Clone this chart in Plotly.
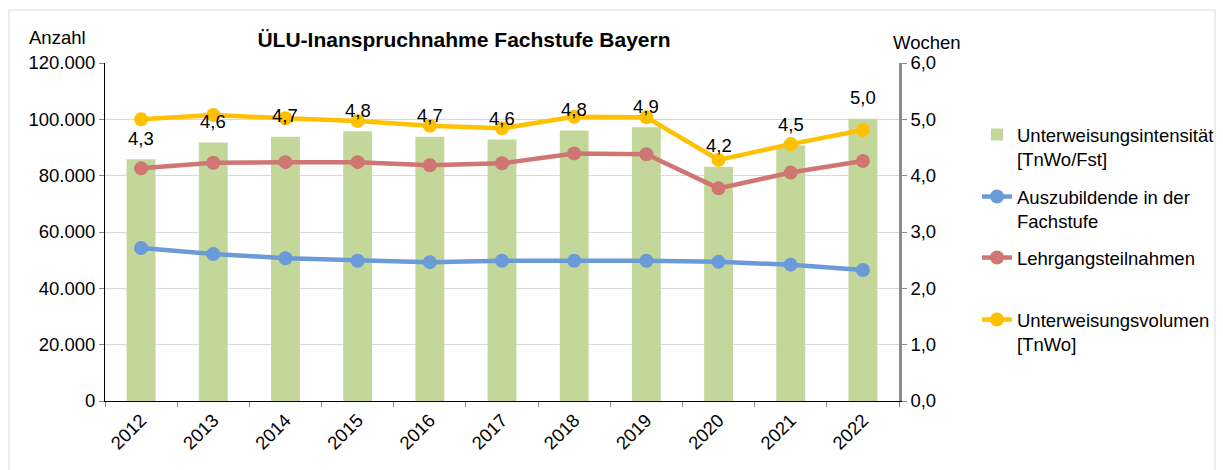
import plotly.graph_objects as go

years = ["2012", "2013", "2014", "2015", "2016", "2017", "2018", "2019", "2020", "2021", "2022"]
intensitaet = [4.29, 4.59, 4.69, 4.79, 4.69, 4.64, 4.80, 4.86, 4.16, 4.54, 5.01]
azubis = [54300, 52200, 50700, 49800, 49300, 49800, 49800, 49800, 49400, 48400, 46500]
lehrgaenge = [82600, 84600, 84800, 84800, 83700, 84400, 87900, 87600, 75500, 81100, 85200]
volumen = [100000, 101500, 100400, 99400, 97700, 96800, 100900, 100700, 85600, 91200, 96200]

left_ticks = [0, 20000, 40000, 60000, 80000, 100000, 120000]
right_ticks = [0, 1, 2, 3, 4, 5, 6]

xi = list(range(len(years)))
boundaries = [i - 0.5 for i in range(len(years) + 1)]

FONT = "Liberation Sans, Arial, sans-serif"
FS = 18.5
W, H = 1223, 470
L, R, T, B = 105, 324, 63, 69
ph = H - T - B
pw = W - L - R

fig = go.Figure()

fig.add_trace(go.Bar(
    x=xi, y=intensitaet, name="Unterweisungsintensität<br>[TnWo/Fst]",
    marker=dict(color="#c4d79b", line=dict(width=0)), width=0.4,
    yaxis="y", legend="legend", hoverinfo="skip", showlegend=True,
))

line_specs = [
    (azubis, "Auszubildende in der<br>Fachstufe", "#6a9ad8", "legend2"),
    (lehrgaenge, "Lehrgangsteilnahmen", "#cf7673", "legend3"),
    (volumen, "Unterweisungsvolumen<br>[TnWo]", "#ffc000", "legend4"),
]
for vals, name, col, leg in line_specs:
    fig.add_trace(go.Scatter(
        x=xi, y=vals, name=name, mode="lines+markers",
        line=dict(color=col, width=4.5), marker=dict(color=col, size=14),
        yaxis="y2", legend=leg, hoverinfo="skip", showlegend=True,
    ))

annotations = []
for i, v in zip(xi, intensitaet):
    annotations.append(dict(
        x=i, y=v, xref="x", yref="y", yshift=21, showarrow=False,
        xanchor="center", yanchor="middle",
        text=f"{v:.1f}".replace(".", ","),
        font=dict(family=FONT, size=FS, color="#000000"),
    ))

annotations.append(dict(
    x=(57 - L) / pw, y=(H - B - 38) / ph, xref="paper", yref="paper",
    xanchor="center", yanchor="middle",
    text="Anzahl", showarrow=False, font=dict(family=FONT, size=FS, color="#000000"),
))
annotations.append(dict(
    x=(927 - L) / pw, y=(H - B - 42) / ph, xref="paper", yref="paper",
    xanchor="center", yanchor="middle",
    text="Wochen", showarrow=False, font=dict(family=FONT, size=FS, color="#000000"),
))

legend_tops = [116, 178, 239, 301]
legends = {}
for k, top in enumerate(legend_tops):
    key = "legend" if k == 0 else f"legend{k + 1}"
    legends[key] = dict(
        xref="container", yref="container", xanchor="left", yanchor="top",
        x=977 / W, y=1 - top / H,
        font=dict(family=FONT, size=FS, color="#000000"), bgcolor="rgba(0,0,0,0)",
        valign="top", borderwidth=0,
    )

fig.update_layout(
    width=W, height=H,
    margin=dict(l=L, r=R, t=T, b=B),
    paper_bgcolor="white", plot_bgcolor="white",
    separators=",.",
    showlegend=True,
    font=dict(family=FONT, size=FS, color="#000000"),
    title=dict(
        text="<b>ÜLU-Inanspruchnahme Fachstufe Bayern</b>",
        x=464 / W, xref="container", xanchor="center",
        y=1 - 40 / H, yref="container", yanchor="middle",
        font=dict(family=FONT, size=21, color="#000000"),
    ),
    xaxis=dict(
        type="linear", range=[-0.5, len(years) - 0.5],
        tickmode="array", tickvals=xi, ticktext=years, tickangle=-45,
        ticks="", showline=True, linecolor="#000000", linewidth=1.3,
        showgrid=False, zeroline=False, tickfont=dict(family=FONT, size=FS),
        minor=dict(tickmode="array", tickvals=boundaries, ticks="outside",
                   ticklen=5, tickcolor="#888888", tickwidth=1, showgrid=False),
    ),
    yaxis=dict(
        side="right", range=[0, 6], tickmode="array", tickvals=right_ticks, tickformat=".1f",
        showline=True, linecolor="#8c8c8c", linewidth=2.5,
        ticks="outside", ticklen=5, tickcolor="#8c8c8c",
        showgrid=True, gridcolor="#d9d9d9", gridwidth=1,
        zeroline=False, tickfont=dict(family=FONT, size=FS),
    ),
    yaxis2=dict(
        side="left", overlaying="y", range=[0, 120000], tickmode="array",
        tickvals=left_ticks, tickformat=",.0f",
        showline=True, linecolor="#000000", linewidth=1,
        ticks="outside", ticklen=5, tickcolor="#888888",
        showgrid=False, zeroline=False, tickfont=dict(family=FONT, size=FS),
    ),
    annotations=annotations,
    shapes=[dict(
        type="rect", xref="paper", yref="paper",
        x0=(9 - L) / pw, x1=(1215 - L) / pw,
        y0=(H - B - 480) / ph, y1=(H - B - 10) / ph,
        line=dict(color="#d9d9d9", width=1), fillcolor="rgba(0,0,0,0)", layer="below",
    )],
    **legends,
)

fig.write_html(
    "out.html",
    config={"displayModeBar": False},
    post_script="document.body.style.margin='0';document.body.style.padding='0';",
)
